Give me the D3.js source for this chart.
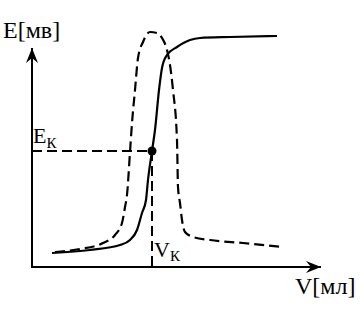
<!DOCTYPE html>
<html>
<head>
<meta charset="utf-8">
<script src="https://cdn.jsdelivr.net/npm/d3@7"></script>
<style>
  body { margin: 0; background: #fff; }
  text { font-family: "Liberation Serif", "Times New Roman", serif; fill: #000; }
</style>
</head>
<body>
<div id="chart"></div>
<script>
// titration curve: potential E (mV) vs titrant volume V (ml)
var volume = [2.0, 5.8, 8.8, 9.8, 10.5, 11.0, 11.4, 11.6, 12.0, 12.3, 12.7, 13.0, 13.5, 14.5, 15.8, 16.8, 19.8, 24.5];
var potential = [14, 17, 22, 27, 37, 54, 67, 87, 116, 137, 177, 199, 212, 220, 227, 229, 230, 231];

// derivative (dashed)
var dVolume = [2.3, 4.8, 7.1, 8.3, 9.0, 9.3, 9.5, 9.8, 10.0, 10.3, 10.6, 11.1, 11.8, 12.5, 13.0, 13.5, 13.8, 14.1, 14.5, 14.6, 14.8, 15.0, 15.3, 16.1, 17.8, 21.1, 25.1];
var dValue = [15, 18, 24, 32, 44, 60, 72, 115, 144, 177, 209, 225, 235, 234, 229, 217, 202, 177, 127, 80, 64, 47, 35, 30, 27, 24, 20];

var equivV = 12.0, equivE = 116;
var axisLabels = { y: "E[мв]", x: "V[мл]" };

var width = 361, height = 309;

var svg = d3.select("#chart")
	.append("svg")
	.attr("width", width)
	.attr("height", height)
	;

var x = d3.scaleLinear().domain([0, 29]).range([32, 322]);
var y = d3.scaleLinear().domain([0, 220]).range([267, 47]);

svg.append("defs").append("marker")
	.attr("id", "arrow")
	.attr("viewBox", "-15 -7 16 14")
	.attr("markerUnits", "userSpaceOnUse")
	.attr("markerWidth", 16)
	.attr("markerHeight", 14)
	.attr("refX", 0)
	.attr("refY", 0)
	.attr("orient", "auto")
	.append("path")
	.attr("d", "M0,0L-15,-6L-10,0L-15,6Z")
	.attr("fill", "#000")
	;

// axes without ticks
var xAxis = svg.append("g")
	.attr("transform", "translate(0," + y(0) + ")")
	.call(d3.axisBottom(x).tickValues([]).tickSizeOuter(0));
var yAxis = svg.append("g")
	.attr("transform", "translate(" + x(0) + ",0)")
	.call(d3.axisLeft(y).tickValues([]).tickSizeOuter(0));

xAxis.select(".domain")
	.attr("d", "M" + (x(0) - 1) + ",0H" + (x(29) - 1))
	.attr("stroke-width", 2)
	.attr("marker-end", "url(#arrow)");
yAxis.select(".domain")
	.attr("d", "M0," + y(0) + "V" + (y(220) + 1))
	.attr("stroke-width", 2)
	.attr("marker-end", "url(#arrow)");

var line = d3.line()
	.x(function(d) { return x(d[0]); })
	.y(function(d) { return y(d[1]); })
	.curve(d3.curveMonotoneX)
	;

svg.append("path")
	.datum(d3.zip(dVolume, dValue))
	.attr("d", line)
	.attr("fill", "none")
	.attr("stroke", "#000")
	.attr("stroke-width", 2.2)
	.attr("stroke-dasharray", "10,5")
	;

svg.append("path")
	.datum(d3.zip(volume, potential))
	.attr("d", line)
	.attr("fill", "none")
	.attr("stroke", "#000")
	.attr("stroke-width", 2.2)
	;

// equivalence point guides
svg.append("line")
	.attr("x1", x(0)).attr("y1", y(equivE))
	.attr("x2", x(equivV)).attr("y2", y(equivE))
	.attr("stroke", "#000").attr("stroke-width", 2)
	.attr("stroke-dasharray", "10,5");
svg.append("line")
	.attr("x1", x(equivV)).attr("y1", y(equivE))
	.attr("x2", x(equivV)).attr("y2", y(0))
	.attr("stroke", "#000").attr("stroke-width", 2)
	.attr("stroke-dasharray", "10,5");
svg.append("circle")
	.attr("cx", x(equivV))
	.attr("cy", y(equivE))
	.attr("r", 4.5)
	.attr("fill", "#000");

// labels
svg.append("text")
	.attr("x", 3).attr("y", 38)
	.style("font-size", "24px")
	.text(axisLabels.y);
svg.append("text")
	.attr("x", 295).attr("y", 294)
	.style("font-size", "24px")
	.text(axisLabels.x);

var ek = svg.append("text")
	.attr("x", x(0) + 1).attr("y", y(equivE) - 8)
	.style("font-size", "22px");
ek.append("tspan").text("E");
ek.append("tspan").attr("dy", 5).style("font-size", "15px").text("К");

var vk = svg.append("text")
	.attr("x", x(equivV) + 2).attr("y", 257)
	.style("font-size", "22px");
vk.append("tspan").text("V");
vk.append("tspan").attr("dy", 4).style("font-size", "15px").text("К");
</script>
</body>
</html>
